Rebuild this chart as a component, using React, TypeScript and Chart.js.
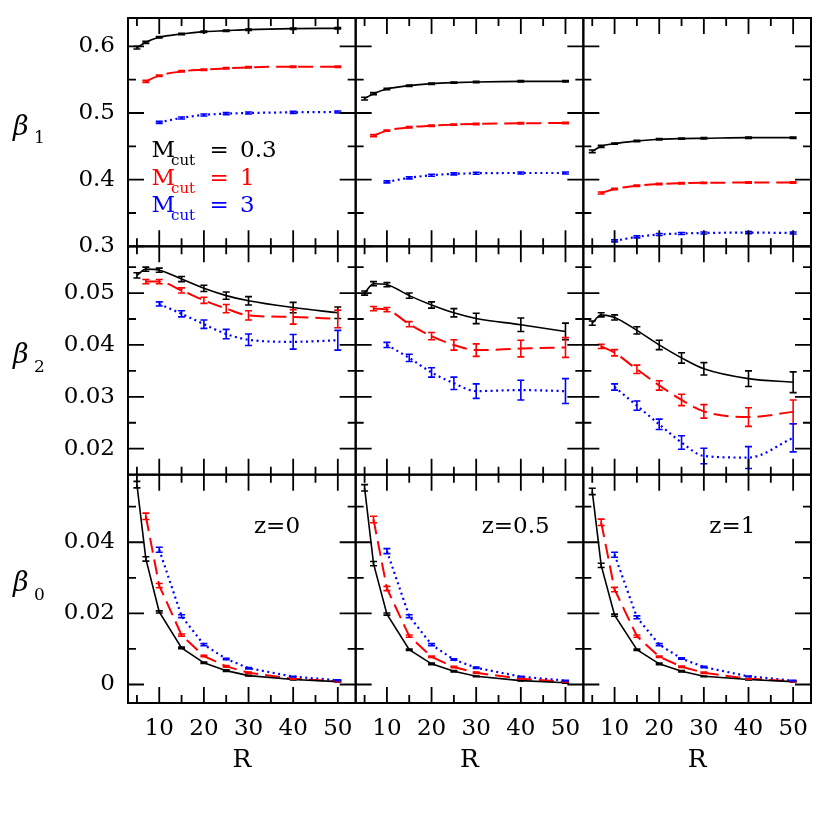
import React, { useEffect, useRef } from 'react';
import { Chart, registerables } from 'chart.js';

Chart.register(...registerables);

// ---------- categories (R values per M_cut series) ----------
const R_M03 = [5, 7, 10, 15, 20, 25, 30, 40, 50];
const R_M1 = [7, 10, 15, 20, 25, 30, 40, 50];
const R_M3 = [10, 15, 20, 25, 30, 40, 50];

const M_LABELS = ['0.3', '1', '3'];
const Z_LABELS = ['z=0', 'z=0.5', 'z=1'];
const ROW_SUBSCRIPTS = ['1', '2', '0'];

// ---------- axis ticks ----------
const X_MAJOR = [10, 20, 30, 40, 50];
const X_MINOR = [5, 15, 25, 35, 45];
const X_TICK_LABELS = ['10', '20', '30', '40', '50'];

const B1_MAJOR = [0.3, 0.4, 0.5, 0.6];
const B1_MINOR = [0.35, 0.45, 0.55];
const B1_TICK_LABELS = ['0.3', '0.4', '0.5', '0.6'];

const B2_MAJOR = [0.02, 0.03, 0.04, 0.05];
const B2_MINOR = [0.025, 0.035, 0.045, 0.055];
const B2_TICK_LABELS = ['0.02', '0.03', '0.04', '0.05'];

const B0_MAJOR = [0, 0.02, 0.04];
const B0_MINOR = [0.01, 0.03, 0.05];
const B0_TICK_LABELS = ['0', '0.02', '0.04'];

// ---------- beta_1 ----------
const B1_Z0_M03 = [0.598, 0.606, 0.6135, 0.6185, 0.622, 0.6235, 0.625, 0.6265, 0.627];
const B1_Z0_M1 = [0.5475, 0.556, 0.5625, 0.565, 0.567, 0.5685, 0.5695, 0.5695];
const B1_Z0_M3 = [0.486, 0.4926, 0.4971, 0.499, 0.5, 0.501, 0.5016];
const B1_Z05_M03 = [0.5216, 0.529, 0.536, 0.541, 0.544, 0.5456, 0.5466, 0.5475, 0.5475];
const B1_Z05_M1 = [0.466, 0.4736, 0.4786, 0.481, 0.4826, 0.4836, 0.4846, 0.485];
const B1_Z05_M3 = [0.3967, 0.4027, 0.4066, 0.4087, 0.4096, 0.41, 0.41];
const B1_Z1_M03 = [0.4426, 0.45, 0.4541, 0.458, 0.4606, 0.4616, 0.462, 0.463, 0.463];
const B1_Z1_M1 = [0.38, 0.386, 0.391, 0.3935, 0.3946, 0.3952, 0.3957, 0.3957];
const B1_Z1_M3 = [0.3082, 0.3142, 0.3177, 0.3192, 0.32, 0.3206, 0.32];
const B1_ERR_M03 = [0.002, 0.0015, 0.001, 0.001, 0.001, 0.001, 0.001, 0.001, 0.001];
const B1_ERR_M1 = [0.0015, 0.001, 0.001, 0.001, 0.001, 0.001, 0.001, 0.001];
const B1_ERR_M3 = [0.0015, 0.0015, 0.0015, 0.0015, 0.0015, 0.0015, 0.0015];

// ---------- beta_2 ----------
const B2_Z0_M03 = [0.0534, 0.0546, 0.0544, 0.0527, 0.0509, 0.0495, 0.0485, 0.0472, 0.0462];
const B2_Z0_M1 = [0.0522, 0.0522, 0.0505, 0.0486, 0.047, 0.0457, 0.0454, 0.045];
const B2_Z0_M3 = [0.0479, 0.046, 0.044, 0.0421, 0.041, 0.0406, 0.0409];
const B2_Z05_M03 = [0.05, 0.0518, 0.0516, 0.0495, 0.0477, 0.0462, 0.0451, 0.0439, 0.0426];
const B2_Z05_M1 = [0.047, 0.0468, 0.044, 0.0417, 0.04, 0.039, 0.0393, 0.0395];
const B2_Z05_M3 = [0.04, 0.0375, 0.0347, 0.0326, 0.0311, 0.0313, 0.0311];
const B2_Z1_M03 = [0.0442, 0.0458, 0.0453, 0.0428, 0.04, 0.0375, 0.0354, 0.0335, 0.0328];
const B2_Z1_M1 = [0.0397, 0.0385, 0.0353, 0.0322, 0.0294, 0.0272, 0.0261, 0.0271];
const B2_Z1_M3 = [0.0319, 0.0283, 0.0247, 0.0212, 0.0186, 0.0183, 0.0221];

const B2_Z0_M03_ERR = [0.0005, 0.0004, 0.0004, 0.0005, 0.0006, 0.0007, 0.0008, 0.001, 0.0011];
const B2_Z0_M1_ERR = [0.0004, 0.0004, 0.0005, 0.0006, 0.0008, 0.0009, 0.0014, 0.0017];
const B2_Z0_M3_ERR = [0.0004, 0.0006, 0.0008, 0.0009, 0.0011, 0.0014, 0.0019];
const B2_Z05_M03_ERR = [0.0004, 0.0004, 0.0004, 0.0005, 0.0006, 0.0008, 0.001, 0.0013, 0.0016];
const B2_Z05_M1_ERR = [0.0004, 0.0004, 0.0005, 0.0007, 0.001, 0.0012, 0.0016, 0.0019];
const B2_Z05_M3_ERR = [0.0005, 0.0007, 0.0009, 0.0012, 0.0014, 0.0019, 0.0024];
const B2_Z1_M03_ERR = [0.0004, 0.0004, 0.0005, 0.0007, 0.0009, 0.001, 0.0012, 0.0015, 0.002];
const B2_Z1_M1_ERR = [0.0004, 0.0006, 0.0008, 0.0009, 0.0011, 0.0013, 0.0018, 0.0023];
const B2_Z1_M3_ERR = [0.0006, 0.0009, 0.001, 0.0013, 0.0015, 0.0021, 0.0027];

// ---------- beta_0 ----------
const B0_Z0_M03 = [0.0562, 0.0353, 0.0204, 0.0103, 0.0061, 0.0039, 0.0025, 0.0014, 0.0008];
const B0_Z0_M1 = [0.0473, 0.0278, 0.0139, 0.008, 0.0051, 0.0033, 0.0016, 0.0009];
const B0_Z0_M3 = [0.0379, 0.0192, 0.0112, 0.0072, 0.0046, 0.0022, 0.0012];
const B0_Z05_M03 = [0.0553, 0.034, 0.0198, 0.0098, 0.0058, 0.0037, 0.0023, 0.0011, 0.0005];
const B0_Z05_M1 = [0.0464, 0.027, 0.0136, 0.0078, 0.0049, 0.0033, 0.0016, 0.0008];
const B0_Z05_M3 = [0.0375, 0.0192, 0.0112, 0.007, 0.0047, 0.0022, 0.0011];
const B0_Z1_M03 = [0.0543, 0.0335, 0.0195, 0.0098, 0.0058, 0.0037, 0.0023, 0.0014, 0.0008];
const B0_Z1_M1 = [0.0456, 0.0267, 0.0136, 0.0078, 0.005, 0.0033, 0.0016, 0.0009];
const B0_Z1_M3 = [0.0365, 0.0189, 0.0112, 0.0073, 0.0049, 0.0023, 0.0011];
const B0_ERR_M03 = [0.0009, 0.0006, 0.0003, 0.0002, 0.0002, 0.0002, 0.0001, 0.0001, 0.0001];
const B0_ERR_M1 = [0.0009, 0.0006, 0.0003, 0.0002, 0.0002, 0.0002, 0.0001, 0.0001];
const B0_ERR_M3 = [0.0007, 0.0004, 0.0003, 0.0002, 0.0002, 0.0001, 0.0001];

// ---------- tables built from the arrays above ----------
const SERIES_R = [R_M03, R_M1, R_M3];
const ROW_VALUES = [
  [[B1_Z0_M03, B1_Z0_M1, B1_Z0_M3], [B1_Z05_M03, B1_Z05_M1, B1_Z05_M3], [B1_Z1_M03, B1_Z1_M1, B1_Z1_M3]],
  [[B2_Z0_M03, B2_Z0_M1, B2_Z0_M3], [B2_Z05_M03, B2_Z05_M1, B2_Z05_M3], [B2_Z1_M03, B2_Z1_M1, B2_Z1_M3]],
  [[B0_Z0_M03, B0_Z0_M1, B0_Z0_M3], [B0_Z05_M03, B0_Z05_M1, B0_Z05_M3], [B0_Z1_M03, B0_Z1_M1, B0_Z1_M3]],
];
const ROW_ERRORS = [
  [[B1_ERR_M03, B1_ERR_M1, B1_ERR_M3], [B1_ERR_M03, B1_ERR_M1, B1_ERR_M3], [B1_ERR_M03, B1_ERR_M1, B1_ERR_M3]],
  [[B2_Z0_M03_ERR, B2_Z0_M1_ERR, B2_Z0_M3_ERR], [B2_Z05_M03_ERR, B2_Z05_M1_ERR, B2_Z05_M3_ERR], [B2_Z1_M03_ERR, B2_Z1_M1_ERR, B2_Z1_M3_ERR]],
  [[B0_ERR_M03, B0_ERR_M1, B0_ERR_M3], [B0_ERR_M03, B0_ERR_M1, B0_ERR_M3], [B0_ERR_M03, B0_ERR_M1, B0_ERR_M3]],
];
const ROW_MIN = [0.3, 0.015, -0.0052];
const ROW_MAX = [0.6425, 0.059, 0.059];
const ROW_MAJOR = [B1_MAJOR, B2_MAJOR, B0_MAJOR];
const ROW_MINOR = [B1_MINOR, B2_MINOR, B0_MINOR];
const ROW_TICK_LABELS = [B1_TICK_LABELS, B2_TICK_LABELS, B0_TICK_LABELS];

const SERIES_COLORS = ['#000000', '#ff0000', '#0000ff'];
const SERIES_WIDTHS = [1.6, 2, 2.2];
const SERIES_DASHES = [[], [15, 7], [2, 3.5]];

const FONT = "'DejaVu Serif', 'Liberation Serif', serif";

const decorPlugin = {
  id: 'panelDecor',
  afterDatasetsDraw(chart: any) {
    const ctx = chart.ctx;
    // error bars
    chart.data.datasets.forEach((ds: any, di: number) => {
      const meta = chart.getDatasetMeta(di);
      const ys = chart.scales[ds.yAxisID];
      ctx.save();
      ctx.strokeStyle = ds.borderColor;
      ctx.lineWidth = 1.6;
      ctx.setLineDash([]);
      meta.data.forEach((pt: any, i: number) => {
        const v = ds.data[i].y;
        const e = ds.errors[i];
        const x = pt.x;
        const y1 = ys.getPixelForValue(v - e);
        const y2 = ys.getPixelForValue(v + e);
        const cap = 3.5;
        ctx.beginPath();
        ctx.moveTo(x, y1);
        ctx.lineTo(x, y2);
        ctx.moveTo(x - cap, y1);
        ctx.lineTo(x + cap, y1);
        ctx.moveTo(x - cap, y2);
        ctx.lineTo(x + cap, y2);
        ctx.stroke();
      });
      ctx.restore();
    });

    // frames and inward ticks
    ctx.save();
    ctx.strokeStyle = '#000';
    ctx.setLineDash([]);
    const MAJ = 16;
    const MIN = 8;
    for (let r = 0; r < 3; r++) {
      const ys = chart.scales['y' + r];
      for (let c = 0; c < 3; c++) {
        const xs = chart.scales['x' + c];
        const L = xs.left, R = xs.right, T = ys.top, B = ys.bottom;
        ctx.lineWidth = 1.8;
        ctx.beginPath();
        const xt = (vals: number[], len: number) => {
          vals.forEach((v) => {
            const px = xs.getPixelForValue(v);
            ctx.moveTo(px, B);
            ctx.lineTo(px, B - len);
            ctx.moveTo(px, T);
            ctx.lineTo(px, T + len);
          });
        };
        const yt = (vals: number[], len: number) => {
          vals.forEach((v) => {
            const py = ys.getPixelForValue(v);
            ctx.moveTo(L, py);
            ctx.lineTo(L + len, py);
            ctx.moveTo(R, py);
            ctx.lineTo(R - len, py);
          });
        };
        xt(X_MAJOR, MAJ);
        xt(X_MINOR, MIN);
        yt(ROW_MAJOR[r], MAJ);
        yt(ROW_MINOR[r], MIN);
        ctx.stroke();
        ctx.lineWidth = 2;
        ctx.strokeRect(L, T, R - L, B - T);
      }
    }

    // beta labels
    ctx.fillStyle = '#000';
    ctx.textAlign = 'left';
    ctx.textBaseline = 'alphabetic';
    for (let r = 0; r < 3; r++) {
      const ys = chart.scales['y' + r];
      const mid = (ys.top + ys.bottom) / 2;
      ctx.font = `italic 27px ${FONT}`;
      ctx.fillText('\u03B2', 13, mid + 2.5);
      ctx.font = `17px ${FONT}`;
      ctx.fillText(ROW_SUBSCRIPTS[r], 34, mid + 11);
    }

    // legend in first panel
    const x0 = chart.scales.x0.left;
    const y0 = chart.scales.y0.top;
    const baselines = [139, 167, 194];
    for (let s = 0; s < 3; s++) {
      const by = y0 + baselines[s];
      ctx.fillStyle = SERIES_COLORS[s];
      ctx.font = `23px ${FONT}`;
      ctx.fillText('M', x0 + 23.5, by);
      ctx.fillText('=', x0 + 81.5, by);
      ctx.fillText(M_LABELS[s], x0 + 112, by);
      ctx.font = `15px ${FONT}`;
      ctx.fillText('cut', x0 + 43, by + 7.5);
    }

    // redshift labels in bottom row
    const yb = chart.scales.y2;
    ctx.fillStyle = '#000';
    ctx.font = `23px ${FONT}`;
    for (let c = 0; c < 3; c++) {
      const xs = chart.scales['x' + c];
      ctx.fillText(Z_LABELS[c], xs.left + 126, yb.top + 58);
    }
    ctx.restore();
  },
};

const noPadding = (s: any) => {
  s.paddingTop = 0;
  s.paddingBottom = 0;
  s.paddingLeft = 0;
  s.paddingRight = 0;
};

export default function App() {
  const ref = useRef<HTMLCanvasElement | null>(null);

  useEffect(() => {
    if (!ref.current) return;
    const datasets: any[] = [];
    for (let r = 0; r < 3; r++) {
      for (let c = 0; c < 3; c++) {
        for (let s = 0; s < 3; s++) {
          const vals = ROW_VALUES[r][c][s];
          datasets.push({
            type: 'line',
            label: `row${r}-col${c}-s${s}`,
            data: SERIES_R[s].map((x, i) => ({ x, y: vals[i] })),
            errors: ROW_ERRORS[r][c][s],
            xAxisID: 'x' + c,
            yAxisID: 'y' + r,
            borderColor: SERIES_COLORS[s],
            backgroundColor: SERIES_COLORS[s],
            borderWidth: SERIES_WIDTHS[s],
            borderDash: SERIES_DASHES[s],
            borderCapStyle: 'butt',
            pointRadius: 0,
            pointHoverRadius: 0,
            fill: false,
            tension: 0,
            cubicInterpolationMode: r < 2 ? 'monotone' : 'default',
          });
        }
      }
    }

    const scales: any = {};
    for (let c = 0; c < 3; c++) {
      scales['x' + c] = {
        type: 'linear',
        position: 'bottom',
        stack: 'cols',
        stackWeight: 1,
        weight: c + 1,
        min: 3,
        max: 54,
        grid: { display: false, drawTicks: false },
        border: { display: false },
        ticks: {
          autoSkip: false,
          maxRotation: 0,
          minRotation: 0,
          padding: 12,
          color: '#000',
          font: { family: FONT, size: 23 },
          callback: (_v: any, i: number) => X_TICK_LABELS[i],
        },
        afterBuildTicks: (s: any) => {
          s.ticks = X_MAJOR.map((v) => ({ value: v }));
        },
        afterFit: (s: any) => {
          s.height = 127;
          noPadding(s);
        },
        title: {
          display: true,
          text: 'R',
          color: '#000',
          font: { family: FONT, size: 25, lineHeight: 1 },
          padding: { top: 0, bottom: 57 },
        },
      };
    }
    for (let r = 0; r < 3; r++) {
      scales['y' + r] = {
        type: 'linear',
        position: 'left',
        stack: 'rows',
        stackWeight: 1,
        weight: 3 - r,
        min: ROW_MIN[r],
        max: ROW_MAX[r],
        grid: { display: false, drawTicks: false },
        border: { display: false },
        ticks: {
          autoSkip: false,
          padding: 13,
          color: '#000',
          font: { family: FONT, size: 23 },
          callback: (_v: any, i: number) => ROW_TICK_LABELS[r][i],
        },
        afterBuildTicks: (s: any) => {
          s.ticks = ROW_MAJOR[r].map((v) => ({ value: v }));
        },
        afterFit: (s: any) => {
          s.width = 128;
          noPadding(s);
        },
      };
    }

    const chart = new Chart(ref.current, {
      type: 'line',
      data: { datasets },
      options: {
        animation: false,
        responsive: false,
        maintainAspectRatio: false,
        events: [],
        layout: { padding: { left: 0, top: 18, right: 19, bottom: 0 } },
        plugins: {
          legend: { display: false },
          tooltip: { enabled: false },
          title: { display: false },
        },
        scales,
      } as any,
      plugins: [decorPlugin],
    } as any);
    return () => chart.destroy();
  }, []);

  return (
    <div style={{ position: 'absolute', left: 0, top: 0, width: 830, height: 830, background: '#fff' }}>
      <canvas ref={ref} width={830} height={830} style={{ width: 830, height: 830, display: 'block' }} />
    </div>
  );
}
